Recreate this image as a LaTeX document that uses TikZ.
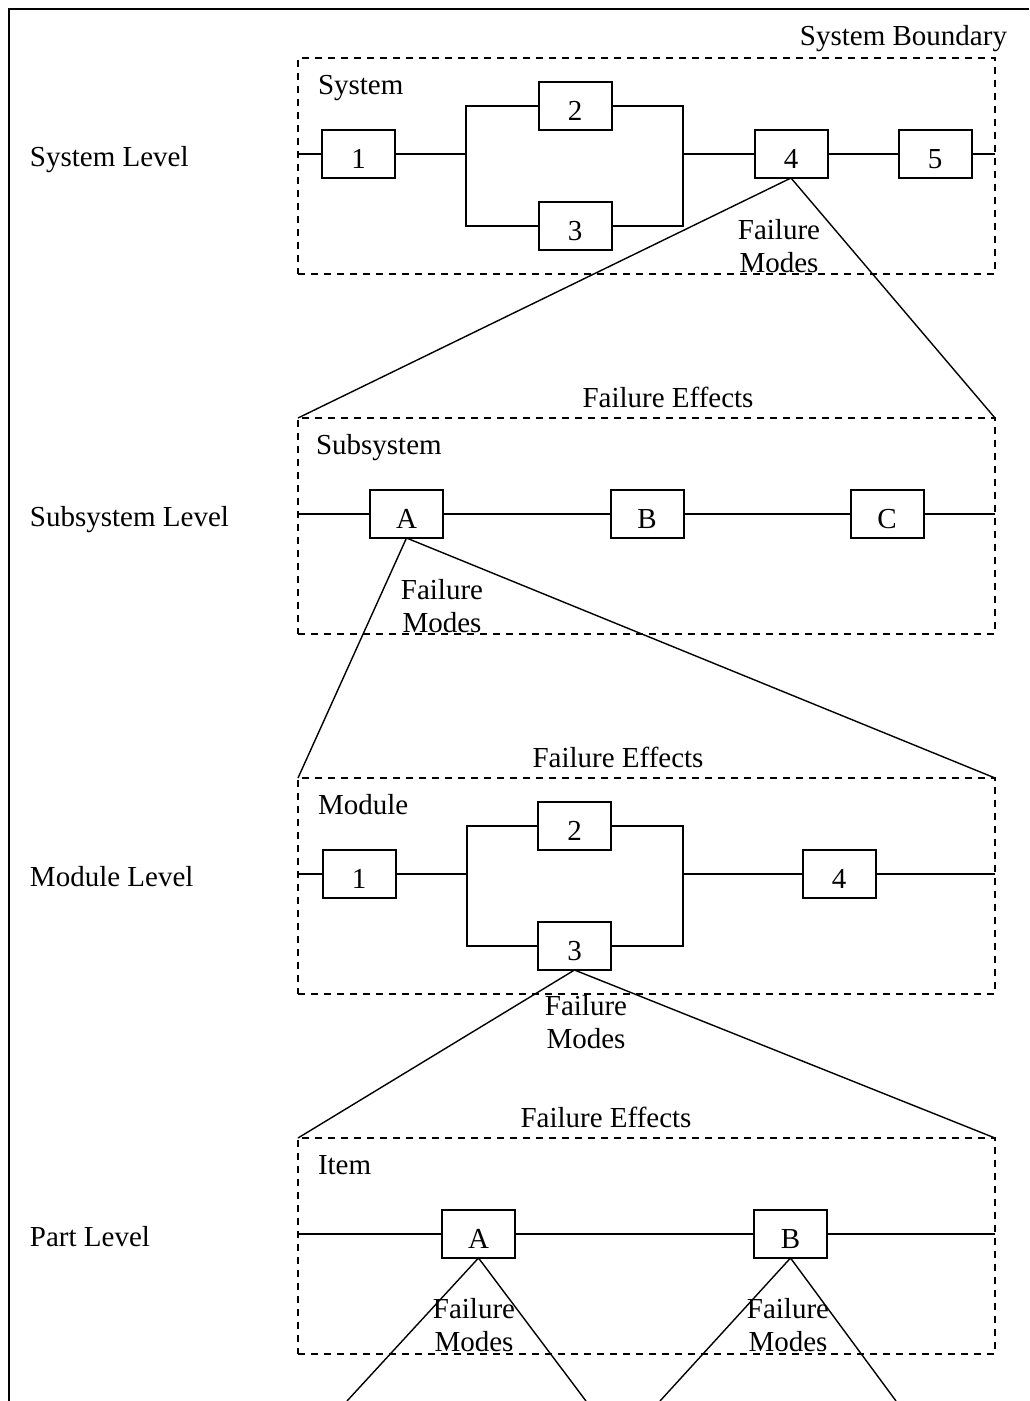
\documentclass[tikz,border=0pt]{standalone}
\usepackage{fontspec}
\setmainfont{Liberation Serif}
\newcommand\failmodes{\begin{tabular}[t]{@{}c@{}}Failure\\Modes\end{tabular}}
\begin{document}
\begin{tikzpicture}[x=1pt,y=-1pt,
  font=\fontsize{29}{33}\selectfont,
  every node/.style={inner sep=0pt, outer sep=0pt},
  frame/.style={draw, dash pattern=on 7pt off 6pt, line width=2pt,
    minimum width=697pt, minimum height=216pt, anchor=north west},
  block/.style={draw, line width=2pt, minimum width=73pt, minimum height=48pt,
    text height=28pt, text depth=0pt},
  wire/.style={line width=2pt},
  fan/.style={line width=1.4pt},
  lbl/.style={anchor=base west},
  ctr/.style={anchor=base}]
\useasboundingbox (0,0) rectangle (1029,1401);
\fill[white] (0,0) rectangle (1029,1401);
% outer border
\draw[line width=2pt] (9,1401) -- (9,9) -- (1029,9);

\node[anchor=base east] (bnd) at (1007,45) {System Boundary};

% level names
\node[lbl] (lsys) at (30,166) {System Level};
\node[lbl] (lsub) at (30,526) {Subsystem Level};
\node[lbl] (lmod) at (30,886) {Module Level};
\node[lbl] (lprt) at (30,1246) {Part Level};

% ---- system ----
\node[frame] (sys) at (298,58) {};
\node[lbl] (tsys) at (318,94) {System};
\node[block] (s1) at (358.5,154) {1};
\node[block] (s2) at (575,106) {2};
\node[block] (s3) at (575,226) {3};
\node[block] (s4) at (791,154) {4};
\node[block] (s5) at (935,154) {5};
\coordinate (sj1) at (466,154);
\coordinate (sj2) at (683,154);
\draw[wire] (sys.west |- s1) -- (s1.west);
\draw[wire] (s1.east) -- (sj1);
\draw[wire] (s2.west) -| (sj1) |- (s3.west);
\draw[wire] (s2.east) -| (sj2) |- (s3.east);
\draw[wire] (sj2) -- (s4.west);
\draw[wire] (s4.east) -- (s5.west);
\draw[wire] (s5.east) -- (sys.east |- s5);
\node[ctr] (fm4) at (779,239) {\failmodes};

% ---- subsystem ----
\node[frame] (sub) at (298,418) {};
\node[lbl] (tsub) at (316,454) {Subsystem};
\node[ctr] (fe1) at (668,407) {Failure Effects};
\node[block] (ua) at (406.5,514) {A};
\node[block] (ub) at (647,514) {B};
\node[block] (uc) at (887,514) {C};
\draw[wire] (sub.west |- ua) -- (ua.west);
\draw[wire] (ua.east) -- (ub.west);
\draw[wire] (ub.east) -- (uc.west);
\draw[wire] (uc.east) -- (sub.east |- uc);
\node[ctr] (fma) at (442,599) {\failmodes};
\draw[fan] (sub.north west) -- (s4.south) -- (sub.north east);

% ---- module ----
\node[frame] (mod) at (298,778) {};
\node[lbl] (tmod) at (318,814) {Module};
\node[ctr] (fe2) at (618,767) {Failure Effects};
\node[block] (m1) at (359,874) {1};
\node[block] (m2) at (574.5,826) {2};
\node[block] (m3) at (574.5,946) {3};
\node[block] (m4) at (839,874) {4};
\coordinate (mj1) at (467,874);
\coordinate (mj2) at (683,874);
\draw[wire] (mod.west |- m1) -- (m1.west);
\draw[wire] (m1.east) -- (mj1);
\draw[wire] (m2.west) -| (mj1) |- (m3.west);
\draw[wire] (m2.east) -| (mj2) |- (m3.east);
\draw[wire] (mj2) -- (m4.west);
\draw[wire] (m4.east) -- (mod.east |- m4);
\node[ctr] (fm3) at (586,1015) {\failmodes};
\draw[fan] (mod.north west) -- (ua.south) -- (mod.north east);

% ---- item ----
\node[frame] (itm) at (298,1138) {};
\node[lbl] (titm) at (318,1174) {Item};
\node[ctr] (fe3) at (606,1127) {Failure Effects};
\node[block] (pa) at (478.5,1234) {A};
\node[block] (pb) at (790.5,1234) {B};
\draw[wire] (itm.west |- pa) -- (pa.west);
\draw[wire] (pa.east) -- (pb.west);
\draw[wire] (pb.east) -- (itm.east |- pb);
\node[ctr] (fmpa) at (474,1318) {\failmodes};
\node[ctr] (fmpb) at (788,1318) {\failmodes};
\draw[fan] (itm.north west) -- (m3.south) -- (itm.north east);

% fans leaving the page below the parts
\coordinate (pa1) at (347,1401);
\coordinate (pa2) at (586,1401);
\coordinate (pb1) at (660,1401);
\coordinate (pb2) at (896,1401);
\draw[fan] (pa1) -- (pa.south) -- (pa2);
\draw[fan] (pb1) -- (pb.south) -- (pb2);
\end{tikzpicture}
\end{document}
